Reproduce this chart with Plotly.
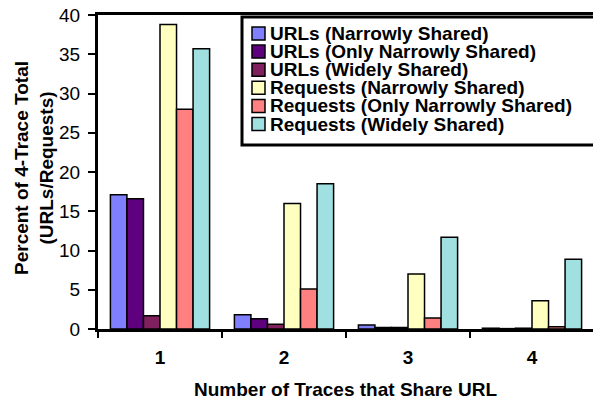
import plotly.graph_objects as go

categories = ["1", "2", "3", "4"]
series_names = [
    "URLs (Narrowly Shared)",
    "URLs (Only Narrowly Shared)",
    "URLs (Widely Shared)",
    "Requests (Narrowly Shared)",
    "Requests (Only Narrowly Shared)",
    "Requests (Widely Shared)",
]
url_narrow = [17.1, 1.8, 0.5, 0.1]
url_only_narrow = [16.6, 1.3, 0.2, 0.05]
url_widely = [1.7, 0.6, 0.2, 0.1]
req_narrow = [38.8, 16.0, 7.0, 3.6]
req_only_narrow = [28.0, 5.1, 1.4, 0.3]
req_widely = [35.7, 18.5, 11.7, 8.9]
series_values = [url_narrow, url_only_narrow, url_widely,
                 req_narrow, req_only_narrow, req_widely]
colors = ["#8080FF", "#5F007F", "#80205F", "#FFFFC0", "#FF8080", "#A0E0E0"]
y_ticks = [0, 5, 10, 15, 20, 25, 30, 35, 40]

FONT = "Liberation Sans, Arial, sans-serif"
W, H = 593, 400
ML, MR, MT, MB = 98, 0, 15, 71
PW, PH = W - ML - MR, H - MT - MB


def px(x):
    return (x - ML) / PW


def py(y):
    return (H - MB - y) / PH


fig = go.Figure()
for name, vals, col in zip(series_names, series_values, colors):
    fig.add_trace(go.Bar(
        x=categories, y=vals, name=name,
        marker=dict(color=col, line=dict(color="black", width=1.5)),
        showlegend=False,
    ))

# category width 124 px
span = PW / 124.0
fig.update_xaxes(
    type="category", range=[-0.5, -0.5 + span],
    showline=True, linewidth=3, linecolor="black", mirror=True,
    ticks="outside", tickson="boundaries", ticklen=6, tickwidth=1.5, tickcolor="black",
    tickfont=dict(family=FONT, size=19, color="black", weight="bold"),
    ticklabelstandoff=9,
    showgrid=False, zeroline=False,
)
fig.update_yaxes(
    range=[0, 40], tickmode="array", tickvals=y_ticks, ticktext=[str(v) for v in y_ticks],
    showline=True, linewidth=3, linecolor="black",
    ticks="outside", ticklen=7, tickwidth=1.5, tickcolor="black",
    tickfont=dict(family=FONT, size=19, color="black"),
    ticklabelstandoff=4,
    showgrid=False, zeroline=False,
)

shapes = []
annotations = []
# legend box
shapes.append(dict(type="rect", xref="paper", yref="paper",
                   x0=px(242), x1=px(605), y0=py(145), y1=py(17),
                   line=dict(color="black", width=3), fillcolor="white", layer="above"))
for i, (name, col) in enumerate(zip(series_names, colors)):
    cy = 33.5 + 18.1 * i
    shapes.append(dict(type="rect", xref="paper", yref="paper",
                       x0=px(252), x1=px(265), y0=py(cy + 6.5), y1=py(cy - 6.5),
                       line=dict(color="black", width=1.5), fillcolor=col, layer="above"))
    annotations.append(dict(xref="paper", yref="paper", x=px(268), y=py(cy),
                            xanchor="left", yanchor="middle", showarrow=False,
                            text=name,
                            font=dict(family=FONT, size=19, color="black", weight="bold")))

# axis titles
annotations.append(dict(xref="paper", yref="paper", x=px(345), y=py(389),
                        xanchor="center", yanchor="middle", showarrow=False,
                        text="Number of Traces that Share URL",
                        font=dict(family=FONT, size=19, color="black", weight="bold")))
annotations.append(dict(xref="paper", yref="paper", x=px(34), y=py(168),
                        xanchor="center", yanchor="middle", showarrow=False,
                        textangle=-90,
                        text="Percent of 4-Trace Total<br>(URLs/Requests)",
                        font=dict(family=FONT, size=19, color="black", weight="bold")))

fig.update_layout(
    width=W, height=H, autosize=False,
    margin=dict(l=ML, r=MR, t=MT, b=MB),
    paper_bgcolor="white", plot_bgcolor="white",
    barmode="group", bargap=0.2, bargroupgap=0,
    showlegend=False,
    shapes=shapes, annotations=annotations,
    font=dict(family=FONT, color="black"),
)

fig.write_html("out.html", config={"displayModeBar": False},
               post_script="document.body.style.margin='0';")
